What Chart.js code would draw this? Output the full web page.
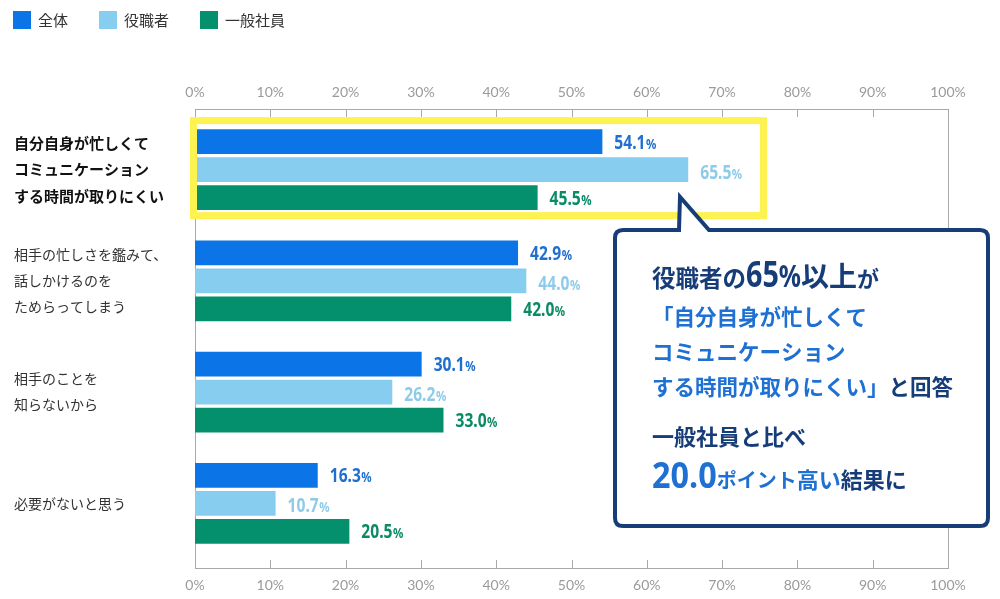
<!DOCTYPE html>
<html lang="ja">
<head>
<meta charset="utf-8">
<script src="https://cdn.jsdelivr.net/npm/chart.js@4.4.1/dist/chart.umd.min.js"></script>
<style>
  html, body { margin: 0; padding: 0; background: #fff; }
  #wrap { width: 1000px; height: 599px; position: relative; }
</style>
</head>
<body>
<div id="wrap"><canvas id="chart"></canvas></div>
<script>
// data
const categories = [
    ["自分自身が忙しくて", "コミュニケーション", "する時間が取りにくい"],
    ["相手の忙しさを鑑みて、", "話しかけるのを", "ためらってしまう"],
    ["相手のことを", "知らないから"],
    ["必要がないと思う"]
];
const seriesNames = ["全体", "役職者", "一般社員"];
const allValues = [54.1, 42.9, 30.1, 16.3];
const managerValues = [65.5, 44.0, 26.2, 10.7];
const staffValues = [45.5, 42.0, 33.0, 20.5];
const tickMin = 0, tickMax = 100, tickStep = 10;

const BAR_COLORS = ["#0b74e6", "#86cdef", "#05906d"];
const LABEL_COLORS = ["#1f6fd0", "#8ecbea", "#0b8a66"];
const NAVY = "#173d78";
const BLUE = "#1e70d2";
const JP = "'Noto Sans CJK JP', 'Noto Sans', sans-serif";
const NUM = "'Noto Sans', 'DejaVu Sans', sans-serif";

// squeezed text for the condensed digits
function narrowText(ctx, text, x, y, sx) {
    ctx.save();
    ctx.translate(x, y);
    ctx.scale(sx, 1);
    ctx.fillText(text, 0, 0);
    ctx.restore();
    return ctx.measureText(text).width * sx;
}

// legend drawn at top left
const legendPlugin = {
    id: "topLegend",
    afterDraw(chart) {
        const ctx = chart.ctx;
        let x = 13;
        ctx.save();
        ctx.font = "15px " + JP;
        ctx.textBaseline = "middle";
        chart.data.datasets.forEach((ds) => {
            ctx.fillStyle = ds.backgroundColor;
            ctx.fillRect(x, 11, 18, 18);
            ctx.fillStyle = "#333";
            ctx.fillText(ds.label, x + 25, 20);
            x += 25 + ctx.measureText(ds.label).width + 31;
        });
        ctx.restore();
    }
};

// frame with inward ticks
const framePlugin = {
    id: "frame",
    beforeDatasetsDraw(chart) {
        const { ctx, chartArea } = chart;
        const xs = chart.scales.x;
        const top = chartArea.top - 5, bottom = chartArea.bottom + 9;
        ctx.save();
        ctx.strokeStyle = "#a9a9a9";
        ctx.lineWidth = 1;
        ctx.strokeRect(chartArea.left + 0.5, top + 0.5, chartArea.right - chartArea.left, bottom - top);
        ctx.beginPath();
        for (let v = tickMin + tickStep; v < tickMax; v += tickStep) {
            const px = Math.round(xs.getPixelForValue(v)) + 0.5;
            ctx.moveTo(px, top); ctx.lineTo(px, top + 8);
            ctx.moveTo(px, bottom); ctx.lineTo(px, bottom - 8);
        }
        ctx.stroke();
        ctx.restore();
    }
};

// value labels, highlight and callout
const annotatePlugin = {
    id: "annotate",
    afterDatasetsDraw(chart) {
        const ctx = chart.ctx;
        ctx.save();
        ctx.textBaseline = "alphabetic";
        chart.data.datasets.forEach((ds, di) => {
            chart.getDatasetMeta(di).data.forEach((bar, i) => {
                const num = ds.data[i].toFixed(1);
                const y = bar.y + 7 + (di === 1 ? 2 : 0);
                ctx.fillStyle = LABEL_COLORS[di];
                ctx.font = "bold 19px " + NUM;
                const w = narrowText(ctx, num, bar.x + 12, y, 0.82);
                ctx.font = "bold 14px " + NUM;
                narrowText(ctx, "%", bar.x + 12 + w + 0.5, y, 0.82);
            });
        });

        // yellow highlight around first category
        const xs = chart.scales.x, ys = chart.scales.y;
        const cy = ys.getPixelForValue(0);
        ctx.strokeStyle = "#fdf24f";
        ctx.lineWidth = 7;
        const hl = xs.getPixelForValue(0) - 1.5, hr = xs.getPixelForValue(75.5);
        ctx.strokeRect(hl, cy - 49, hr - hl, 95);

        // speech bubble
        const L = 615, T = 230, R = 988, B = 526, r = 8;
        ctx.beginPath();
        ctx.moveTo(L + r, T);
        ctx.lineTo(679, T);
        ctx.lineTo(680, 197);
        ctx.lineTo(709, T);
        ctx.lineTo(R - r, T);
        ctx.quadraticCurveTo(R, T, R, T + r);
        ctx.lineTo(R, B - r);
        ctx.quadraticCurveTo(R, B, R - r, B);
        ctx.lineTo(L + r, B);
        ctx.quadraticCurveTo(L, B, L, B - r);
        ctx.lineTo(L, T + r);
        ctx.quadraticCurveTo(L, T, L + r, T);
        ctx.closePath();
        ctx.fillStyle = "#fff";
        ctx.fill();
        ctx.strokeStyle = NAVY;
        ctx.lineWidth = 4;
        ctx.lineJoin = "miter";
        ctx.stroke();

        // runs: text, font, colour, horizontal squeeze
        const lines = [
            { y: 287, runs: [
                ["役職者の", "bold 23.5px " + JP, NAVY, 1],
                ["65", "bold 35px " + NUM, NAVY, 0.82],
                ["%", "bold 30px " + NUM, NAVY, 0.82],
                ["以上", "bold 28px " + JP, NAVY, 1],
                ["が", "bold 22px " + JP, NAVY, 1]] },
            { y: 325, runs: [["「自分自身が忙しくて", "bold 21.5px " + JP, BLUE, 1]] },
            { y: 360, runs: [["コミュニケーション", "bold 21.5px " + JP, BLUE, 1]] },
            { y: 395, runs: [
                ["する時間が取りにくい」", "bold 21.5px " + JP, BLUE, 1],
                ["と回答", "bold 21.5px " + JP, NAVY, 1]] },
            { y: 445, runs: [["一般社員と比べ", "bold 22px " + JP, NAVY, 1]] },
            { y: 488, runs: [
                ["20.0", "bold 36px " + NUM, BLUE, 0.9],
                ["ポイント", "bold 20px " + JP, BLUE, 1],
                ["高い", "bold 22px " + JP, BLUE, 1],
                ["結果に", "bold 22px " + JP, NAVY, 1]] }
        ];
        lines.forEach((ln) => {
            let x = 652;
            ln.runs.forEach(([t, f, c, sx]) => {
                ctx.font = f;
                ctx.fillStyle = c;
                x += narrowText(ctx, t, x, ln.y, sx);
            });
        });
        ctx.restore();
    }
};

const makeDataset = (label, values, color) => ({
    label: label,
    data: values,
    backgroundColor: color,
    borderWidth: 0,
    categoryPercentage: 0.755,
    barPercentage: 0.88,
    xAxisID: "x"
});

const tickOpts = (pad) => ({
    stepSize: tickStep,
    padding: pad,
    color: "#9a9a9a",
    font: { family: "Lato, 'Noto Sans', sans-serif", size: 14 },
    callback: (v) => v + "%"
});

new Chart(document.getElementById("chart").getContext("2d"), {
    type: "bar",
    data: {
        labels: categories,
        datasets: [
            makeDataset(seriesNames[0], allValues, BAR_COLORS[0]),
            makeDataset(seriesNames[1], managerValues, BAR_COLORS[1]),
            makeDataset(seriesNames[2], staffValues, BAR_COLORS[2])
        ]
    },
    options: {
        indexAxis: "y",
        responsive: true,
        maintainAspectRatio: false,
        animation: false,
        layout: { padding: { left: 14, right: 52, top: 0, bottom: 0 } },
        plugins: { legend: { display: false }, tooltip: { enabled: false } },
        scales: {
            x: {
                type: "linear", position: "bottom", min: tickMin, max: tickMax,
                grid: { display: false, drawTicks: false }, border: { display: false },
                ticks: tickOpts(18),
                afterFit: (s) => { s.height = 40; }
            },
            x2: {
                type: "linear", position: "top", min: tickMin, max: tickMax,
                grid: { display: false, drawTicks: false }, border: { display: false },
                ticks: tickOpts(13),
                afterFit: (s) => { s.height = 114; }
            },
            y: {
                grid: { display: false }, border: { display: false },
                ticks: {
                    crossAlign: "far",
                    padding: 0,
                    color: (c) => c.index === 0 ? "#111" : "#333",
                    font: (c) => c.index === 0
                        ? { family: JP, size: 15, weight: "bold", lineHeight: 1.75 }
                        : { family: JP, size: 14, weight: "normal", lineHeight: 1.85 }
                },
                afterFit: (s) => { s.width = 181; }
            }
        }
    },
    plugins: [framePlugin, annotatePlugin, legendPlugin]
});
</script>
</body>
</html>
